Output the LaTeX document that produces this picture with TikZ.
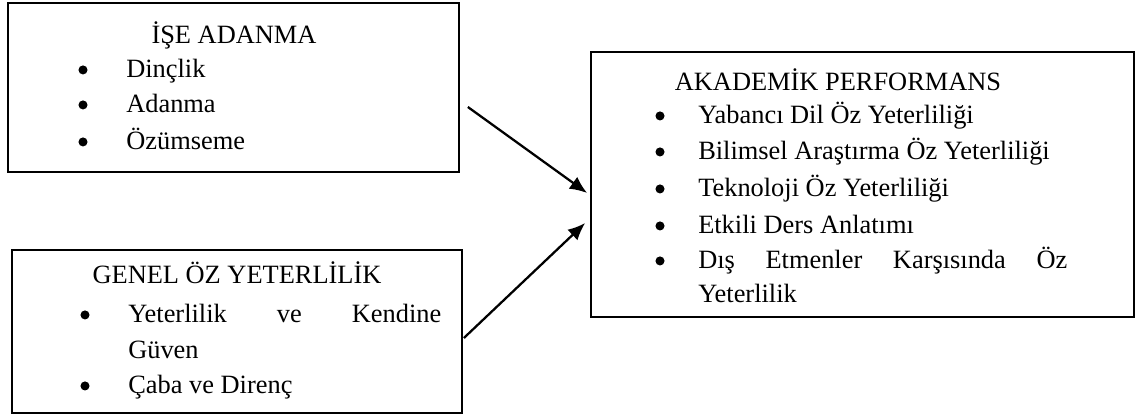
\documentclass[tikz,border=0pt]{standalone}
\usepackage{fontspec}
\setmainfont{Liberation Serif}
\usetikzlibrary{fit,arrows.meta}

\begin{document}
\begin{tikzpicture}[x=0.75pt,y=-0.75pt,
    kutu/.style={draw,line width=1.3pt,inner sep=0pt},
    baslik/.style={anchor=base,inner sep=0pt},
    imlec/.style={circle,fill,inner sep=0pt,minimum size=6.8pt,yshift=5.3pt},
    madde/.style={anchor=base west,inner sep=0pt},
    ok/.style={line width=1.7pt,-{Latex[length=13pt,width=11pt]}}]
    \fontsize{19.8}{26}\selectfont
    \useasboundingbox (0,0) rectangle (1135,415);
    % kutular
    \node[kutu,fit={(8,3) (459,172)}] (ise) {};
    \node[kutu,fit={(12,250) (462,413)}] (genel) {};
    \node[kutu,fit={(591,52) (1134,317)}] (akad) {};
    \node[baslik] (iseT) at (234,43) {İŞE ADANMA};
    \node[baslik] (genelT) at (237,283) {GENEL ÖZ YETERLİLİK};
    \node[baslik] (akadT) at (838,90) {AKADEMİK PERFORMANS};
    \foreach \y/\t [count=\i] in {77/Dinçlik,112/Adanma,149/Özümseme}{
        \node[imlec] (iseB\i) at (83,\y) {};
        \node[madde] (iseM\i) at (126,\y) {\t};
    }
    \node[imlec] (genelB1) at (85,322) {};
    \node[madde] (genelM1) at (128,322) {\makebox[234.75pt][s]{Yeterlilik\hfill ve\hfill Kendine}};
    \node[madde] (genelM1b) at (128,358) {Güven};
    \node[imlec] (genelB2) at (85,393) {};
    \node[madde] (genelM2) at (128,393) {Çaba ve Direnç};
    \foreach \y/\t [count=\i] in {123/Yabancı Dil Öz Yeterliliği,159/Bilimsel Araştırma Öz Yeterliliği,
        196/Teknoloji Öz Yeterliliği,233/Etkili Ders Anlatımı}{
        \node[imlec] (akadB\i) at (660,\y) {};
        \node[madde] (akadM\i) at (698,\y) {\t};
    }
    \node[imlec] (akadB5) at (660,268) {};
    \node[madde] (akadM5) at (698,268) {\makebox[276.75pt][s]{Dış\hfill Etmenler\hfill Karşısında\hfill Öz}};
    \node[madde] (akadM5b) at (698,302) {Yeterlilik};
    % oklar
    \draw[ok] ([shift={(8,19.5)}]ise.east) -- ([shift={(-3,8.5)}]akad.west);
    \draw[ok] ([shift={(1,6.5)}]genel.east) -- ([shift={(-5,38.5)}]akad.west);
\end{tikzpicture}
\end{document}
